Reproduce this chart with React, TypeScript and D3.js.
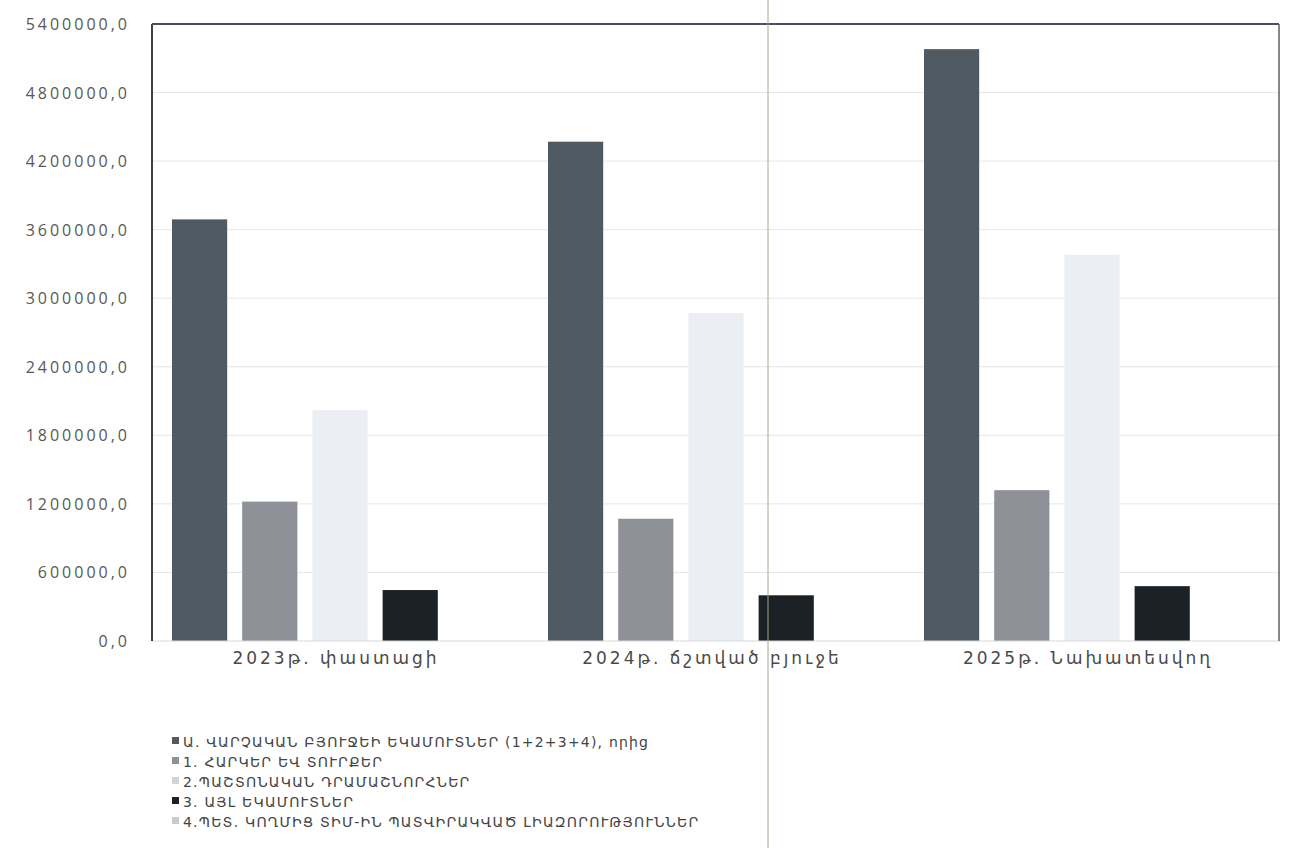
import React from "react";
import * as d3 from "d3";

const categories = ["2023թ. փաստացի", "2024թ. ճշտված բյուջե", "2025թ. Նախատեսվող"];
const seriesNames = [
  "Ա. ՎԱՐՉԱԿԱՆ ԲՅՈՒՋԵԻ ԵԿԱՄՈՒՏՆԵՐ (1+2+3+4), որից",
  "1. ՀԱՐԿԵՐ ԵՎ ՏՈՒՐՔԵՐ",
  "2.ՊԱՇՏՈՆԱԿԱՆ ԴՐԱՄԱՇՆՈՐՀՆԵՐ",
  "3. ԱՅԼ ԵԿԱՄՈՒՏՆԵՐ",
  "4.ՊԵՏ. ԿՈՂՄԻՑ ՏԻՄ-ԻՆ ՊԱՏՎԻՐԱԿՎԱԾ ԼԻԱԶՈՐՈՒԹՅՈՒՆՆԵՐ",
];
const seriesA = [3690000, 4370000, 5180000];
const series1 = [1220000, 1070000, 1320000];
const series2 = [2020000, 2870000, 3380000];
const series3 = [446000, 400000, 480000];
const series4 = [0, 0, 0];
const seriesValues = [seriesA, series1, series2, series3, series4];
const yTicks = [0, 600000, 1200000, 1800000, 2400000, 3000000, 3600000, 4200000, 4800000, 5400000];
const colors = ["#4f5a63", "#8e9198", "#ebeef3", "#1b2124", "#c9cccf"];

export default function App() {
  const left = 152, right = 1280, top = 24, bottom = 641;
  const x0 = d3.scaleBand<string>().domain(categories).range([left, right]).padding(0);
  const bw = x0.bandwidth();
  const x1 = d3.scaleBand<number>().domain([0, 1, 2, 3, 4]).range([20, bw - 20]).paddingInner(0.214).paddingOuter(0);
  const y = d3.scaleLinear().domain([0, 5400000]).range([bottom, top]);
  const fmt = (v: number) => String(v) + ",0";
  const numFont = "'Open Sans', 'Liberation Sans', sans-serif";
  const armFont = "'DejaVu Sans', sans-serif";

  return (
    <svg width={1289} height={848} style={{ position: "absolute", left: 0, top: 0, background: "#fff" }}>
      {yTicks.map((t) => (
        <g key={t}>
          {t > 0 && t < 5400000 && (
            <line x1={left} x2={right} y1={y(t)} y2={y(t)} stroke="#e6e6e6" strokeWidth={1} />
          )}
          <text x={130} y={y(t) + 6} textAnchor="end" fontFamily={numFont} fontSize={16} letterSpacing={3} fill="#585858">
            {fmt(t)}
          </text>
        </g>
      ))}
      {categories.map((c, ci) => (
        <g key={c} transform={`translate(${x0(c)},0)`}>
          {seriesValues.map((s, si) => (
            <rect
              key={si}
              x={x1(si)}
              y={y(s[ci])}
              width={x1.bandwidth()}
              height={bottom - y(s[ci])}
              fill={colors[si]}
            />
          ))}
          <text x={bw / 2 - 4} y={664} textAnchor="middle" fontFamily={armFont} fontSize={17} letterSpacing={3} fill="#4a4a4a">
            {c}
          </text>
        </g>
      ))}
      <line x1={left} x2={right} y1={bottom} y2={bottom} stroke="#d8d8d8" strokeWidth={1} />
      <line x1={left} x2={left} y1={top} y2={bottom} stroke="#3c4048" strokeWidth={2} />
      <line x1={left} x2={1279} y1={top} y2={top} stroke="#4a5060" strokeWidth={2} />
      <line x1={1279} x2={1279} y1={top} y2={bottom} stroke="#5a6068" strokeWidth={1.5} />
      <line x1={768} x2={768} y1={0} y2={848} stroke="#a8a690" strokeWidth={1} />
      {seriesNames.map((n, i) => (
        <g key={n} transform={`translate(172, ${742 + i * 20})`}>
          <rect x={0} y={-5} width={7} height={7} fill={colors[i] === "#ebeef3" ? "#d0d4da" : colors[i]} />
          <text x={11} y={5} fontFamily={armFont} fontSize={14} letterSpacing={1.2} fill="#444">
            {n}
          </text>
        </g>
      ))}
    </svg>
  );
}
